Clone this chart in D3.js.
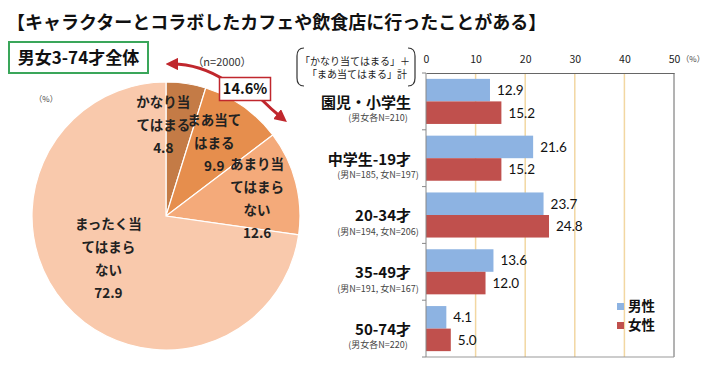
<!DOCTYPE html>
<html><head><meta charset="utf-8">
<script src="https://cdn.jsdelivr.net/npm/d3@7"></script>
<style>
body{margin:0;background:#fff;}
svg{display:block;}
text{font-family:"Noto Sans CJK JP","Noto Sans",sans-serif;}
</style></head>
<body><svg id="c" width="710" height="372"></svg>
<script>
// ---- data ----
const pieLabels = [["かなり当","てはまる"],["まあ当て","はまる"],["あまり当","てはまら","ない"],["まったく当","てはまら","ない"]];
const pieValues = [4.8, 9.9, 12.6, 72.9];
const pieColors = ["#c47b46","#e68e4d","#f4aa7a","#f9c9ac"];
const topTwoLabel = "14.6%";
const categories = ["園児・小学生","中学生-19才","20-34才","35-49才","50-74才"];
const subLabels = ["(男女各N=210)","(男N=185, 女N=197)","(男N=194, 女N=206)","(男N=191, 女N=167)","(男女各N=220)"];
const seriesNames = ["男性","女性"];
const maleValues = [12.9, 21.6, 23.7, 13.6, 4.1];
const femaleValues = [15.2, 15.2, 24.8, 12.0, 5.0];
const seriesColors = ["#8db3e2","#c0504d"];
const xTicks = [0,10,20,30,40,50];

const svg = d3.select("#c");

// title
svg.append("text").attr("x",7).attr("y",29).attr("font-size",18).attr("font-weight","bold").attr("fill","#111")
  .text("【キャラクターとコラボしたカフェや飲食店に行ったことがある】");

// green box
svg.append("rect").attr("x",9).attr("y",42).attr("width",139).attr("height",31).attr("fill","#fff").attr("stroke","#3aa65a").attr("stroke-width",2);
svg.append("text").attr("x",78.5).attr("y",58).attr("dy","0.36em").attr("text-anchor","middle").attr("font-size",17).attr("font-weight","bold").attr("fill","#111").text("男女3-74才全体");

svg.append("text").attr("x",222).attr("y",62).attr("dy","0.35em").attr("text-anchor","middle").attr("font-size",11).attr("fill","#333").text("（n=2000）");
svg.append("text").attr("x",46).attr("y",99).attr("dy","0.35em").attr("text-anchor","middle").attr("font-size",8).attr("fill","#444").text("（%）");

// ---- pie ----
const cx = 166, cy = 216, R = 134;
const pie = d3.pie().sort(null).value(d=>d);
const arc = d3.arc().innerRadius(0).outerRadius(R);
const pg = svg.append("g").attr("transform",`translate(${cx},${cy})`);
const arcs = pie(pieValues);
pg.selectAll("path").data(arcs).join("path").attr("d",arc)
  .attr("fill",(d,i)=>pieColors[i]).attr("stroke","#fff").attr("stroke-width",1.2);

// label placement (fraction of radius offsets from pie center)
const labelLayout = [[-0.02,-0.68],[0.36,-0.545],[0.68,-0.13],[-0.43,0.32]];
arcs.forEach((a,i)=>{
  const lines = pieLabels[i].concat([d3.format(".1f")(pieValues[i])]);
  const lh = 23;
  const x0 = labelLayout[i][0]*R, y0 = labelLayout[i][1]*R;
  const t = pg.append("text").attr("text-anchor","middle").attr("font-size",13.5).attr("font-weight","bold").attr("fill","#222");
  lines.forEach((l,k)=>{
    t.append("tspan").attr("x",x0).attr("y",y0+(k-(lines.length-1)/2)*lh).attr("dy","0.36em").text(l);
  });
});

// 14.6% annotation
const ann = svg.append("g");
const defs = svg.append("defs");
defs.append("marker").attr("id","ah").attr("viewBox","0 0 10 10").attr("refX",5).attr("refY",5)
  .attr("markerWidth",4.2).attr("markerHeight",4.2).attr("orient","auto")
  .append("path").attr("d","M0,0 L10,5 L0,10 z").attr("fill","#c0272d");
ann.append("path").attr("d","M226,81 Q200,64 172,64").attr("fill","none").attr("stroke","#c0272d").attr("stroke-width",3).attr("marker-end","url(#ah)");
ann.append("path").attr("d","M261,99 Q272,110 282,118").attr("fill","none").attr("stroke","#c0272d").attr("stroke-width",3).attr("marker-end","url(#ah)");
ann.append("rect").attr("x",219.5).attr("y",77.5).attr("width",51).attr("height",23).attr("fill","#fff").attr("stroke","#c0272d").attr("stroke-width",1.5);
ann.append("text").attr("x",245).attr("y",89).attr("dy","0.36em").attr("text-anchor","middle").attr("font-size",14.5).attr("font-weight","bold").attr("fill","#111")
  .text(topTwoLabel);

// ---- bar chart ----
const x = d3.scaleLinear().domain([0,50]).range([426,674]);
const yTop = 73, yBottom = 357;
const y = d3.scaleBand().domain(categories).range([yTop,yBottom]);
const yi = d3.scaleBand().domain(seriesNames).range([0,y.bandwidth()]).paddingOuter(0.26);

const bg = svg.append("g");
// gridlines
bg.selectAll("line.g").data(xTicks.slice(1,-1)).join("line")
  .attr("x1",d=>x(d)).attr("x2",d=>x(d)).attr("y1",yTop).attr("y2",yBottom)
  .attr("stroke","#f2d7a2").attr("stroke-width",1.5);
// frame
bg.append("line").attr("x1",x(50)).attr("x2",x(50)).attr("y1",yTop).attr("y2",yBottom).attr("stroke","#666").attr("stroke-width",1);
bg.append("line").attr("x1",x(0)).attr("x2",x(50)).attr("y1",yBottom).attr("y2",yBottom).attr("stroke","#999").attr("stroke-width",1);

// bars
const rows = categories.map((c,i)=>({c, vals:[maleValues[i],femaleValues[i]]}));
const gg = svg.append("g");
rows.forEach(r=>{
  r.vals.forEach((v,k)=>{
    const yy = y(r.c)+yi(seriesNames[k]);
    gg.append("rect").attr("x",x(0)).attr("y",yy).attr("width",x(v)-x(0)).attr("height",yi.bandwidth()).attr("fill",seriesColors[k]);
    gg.append("text").attr("x",x(v)+7).attr("y",yy+yi.bandwidth()/2).attr("dy","0.36em")
      .style("font-family","Lato, 'Open Sans', sans-serif")
      .attr("font-size",13.5).attr("fill","#111").text(d3.format(".1f")(v));
  });
});

// top axis
const xa = svg.append("g").attr("transform",`translate(0,${yTop})`)
  .call(d3.axisTop(x).tickValues(xTicks).tickSize(0).tickPadding(10));
xa.select(".domain").attr("stroke","#666");
xa.selectAll("text").attr("font-size",10.5).attr("fill","#222").style("font-family","'Noto Sans CJK JP',sans-serif");
svg.append("text").attr("x",693).attr("y",59).attr("dy","0.35em").attr("text-anchor","middle").attr("font-size",8).attr("fill","#444").text("（%）");

// left axis with boundary ticks
svg.append("line").attr("x1",x(0)).attr("x2",x(0)).attr("y1",yTop).attr("y2",yBottom).attr("stroke","#888");
const bounds = categories.map(c=>y(c)).concat([yBottom]);
svg.selectAll("line.tk").data(bounds).join("line").attr("class","tk")
  .attr("x1",x(0)-4).attr("x2",x(0)).attr("y1",d=>d).attr("y2",d=>d).attr("stroke","#888");

// category labels
categories.forEach((c,i)=>{
  const cyy = y(c)+y.bandwidth()/2;
  svg.append("text").attr("x",411).attr("y",cyy+1).attr("dy","0.36em").attr("text-anchor","end")
    .attr("font-size",15).attr("font-weight","bold").attr("fill","#111").text(c);
  svg.append("text").attr("x",378).attr("y",cyy+16.5).attr("dy","0.36em").attr("text-anchor","middle")
    .attr("font-size",9).attr("fill","#444").text(subLabels[i]);
});

// bracket note
const note = svg.append("g");
note.append("path").attr("d","M304,48 Q297,48 297,56 L297,78 Q297,86 304,86").attr("fill","none").attr("stroke","#333").attr("stroke-width",1.2);
note.append("path").attr("d","M408,48 Q415,48 415,56 L415,78 Q415,86 408,86").attr("fill","none").attr("stroke","#333").attr("stroke-width",1.2);
note.append("text").attr("x",355).attr("y",61).attr("dy","0.36em").attr("text-anchor","middle").attr("font-size",10).attr("fill","#222").text("「かなり当てはまる」＋");
note.append("text").attr("x",357).attr("y",74.5).attr("dy","0.36em").attr("text-anchor","middle").attr("font-size",10).attr("fill","#222").text("「まあ当てはまる」計");

// legend
const lg = svg.append("g");
seriesNames.forEach((s,k)=>{
  const ly = 306.5 + k*19;
  lg.append("rect").attr("x",617).attr("y",ly-3.5).attr("width",7).attr("height",7).attr("fill",seriesColors[k]);
  lg.append("text").attr("x",628).attr("y",ly).attr("dy","0.36em").attr("font-size",13.5).attr("font-weight","bold").attr("fill","#111").text(s);
});
</script></body></html>
